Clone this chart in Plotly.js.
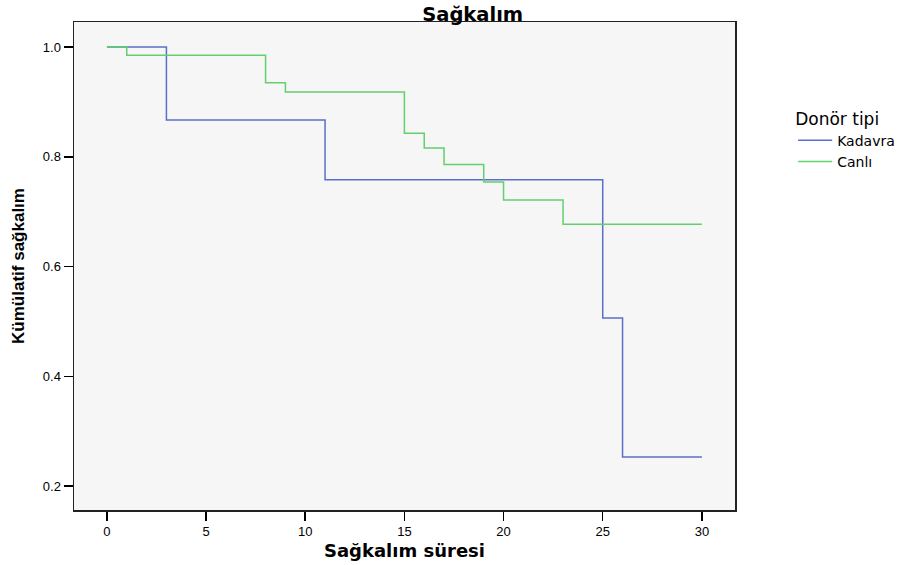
<!DOCTYPE html>
<html>
<head>
<meta charset="utf-8">
<script src="https://cdn.plot.ly/plotly-3.0.1.min.js"></script>
<style>html,body{margin:0;padding:0;background:#fff;}#chart{width:909px;height:565px;}</style>
</head>
<body>
<div id="chart"></div>
<script>
// Kaplan-Meier step data
const kadavraTime = [0, 3, 11, 25, 26, 30];
const kadavraSurv = [1.0, 0.867, 0.758, 0.506, 0.253, 0.253];
const canliTime = [0, 1, 8, 9, 15, 16, 17, 19, 20, 23, 30];
const canliSurv = [1.0, 0.985, 0.935, 0.918, 0.843, 0.816, 0.786, 0.754, 0.721, 0.677, 0.677];
const xTicks = [0, 5, 10, 15, 20, 25, 30];
const yTicks = [0.2, 0.4, 0.6, 0.8, 1.0];

const traces = [
  {x: kadavraTime, y: kadavraSurv, name: 'Kadavra', type: 'scatter', mode: 'lines',
   line: {shape: 'hv', color: '#5a6fc8', width: 1.5}},
  {x: canliTime, y: canliSurv, name: 'Canlı', type: 'scatter', mode: 'lines',
   line: {shape: 'hv', color: '#62d06c', width: 1.5}}
];

const layout = {
  width: 909, height: 565,
  margin: {l: 74, r: 174, t: 22, b: 55, autoexpand: false},
  paper_bgcolor: '#ffffff',
  plot_bgcolor: '#f6f6f6',
  font: {family: 'Liberation Sans, Arial, sans-serif', color: '#000'},
  title: {text: '<b>Sağkalım</b>', font: {size: 19.5, family: 'DejaVu Sans, sans-serif'},
          x: 0.52, xref: 'container', xanchor: 'center', y: 0.975, yref: 'container', yanchor: 'middle'},
  xaxis: {
    range: [-1.66, 31.67], tickvals: xTicks, ticktext: xTicks.map(String),
    ticks: 'outside', ticklen: 9, tickwidth: 1.5, tickcolor: '#000',
    showline: true, linecolor: '#222', linewidth: 1.5, mirror: true,
    showgrid: false, zeroline: false,
    tickfont: {size: 13},
    title: {text: '<b>Sağkalım süresi</b>', font: {size: 18, family: 'DejaVu Sans, sans-serif'}, standoff: 6}
  },
  yaxis: {
    range: [0.1563, 1.0456], tickvals: yTicks, ticktext: yTicks.map(v => v.toFixed(1)),
    ticks: 'outside', ticklen: 9, tickwidth: 1.5, tickcolor: '#000',
    showline: true, linecolor: '#222', linewidth: 1.5, mirror: true,
    showgrid: false, zeroline: false,
    tickfont: {size: 13},
    title: {text: '<b>Kümülatif sağkalım</b>', font: {size: 17, family: 'Liberation Sans Narrow, Liberation Sans, Arial, sans-serif'}, standoff: 14}
  },
  showlegend: true,
  legend: {
    x: 1.088, xanchor: 'left', y: 0.835, yanchor: 'top',
    bgcolor: 'rgba(0,0,0,0)',
    title: {text: 'Donör tipi', font: {size: 17, family: 'DejaVu Sans, sans-serif'}},
    font: {size: 14, family: 'DejaVu Sans, sans-serif'},
    tracegroupgap: 0, itemwidth: 34
  }
};

Plotly.newPlot('chart', traces, layout, {staticPlot: true});
</script>
</body>
</html>
